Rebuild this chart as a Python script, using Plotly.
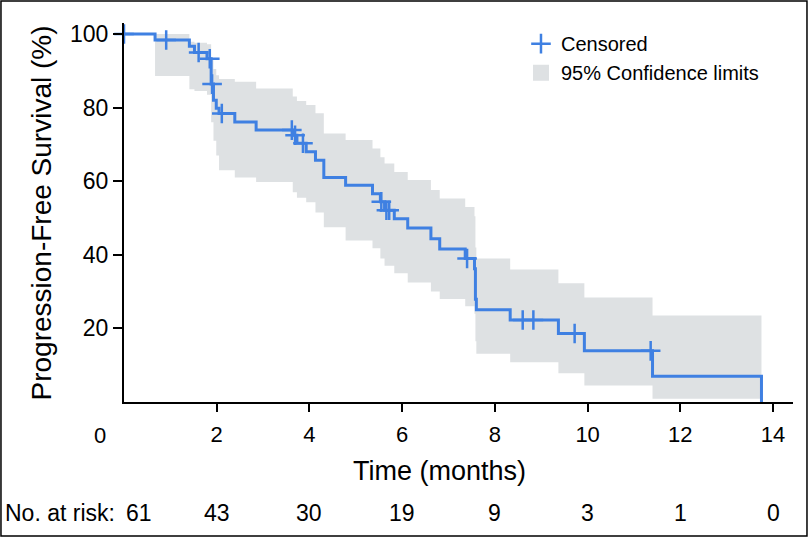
import plotly.graph_objects as go

# ---- data ----
times = [0, 0.67, 1.41, 1.52, 1.79, 1.88, 1.93, 1.99, 2.05, 2.39, 2.85, 3.64, 3.73, 3.93, 4.13, 4.31,
         4.78, 5.36, 5.53, 5.62, 5.83, 6.12, 6.62, 6.81, 7.36, 7.56, 7.58, 7.60, 8.33, 9.37, 9.93,
         11.40, 13.75]
survival = [100, 98.4, 96.7, 95.0, 93.3, 86.4, 82.0, 79.8, 78.4, 76.1, 73.9, 72.5, 70.3, 68.0, 65.7, 61.0,
            58.9, 56.6, 54.4, 52.1, 49.8, 47.3, 44.4, 41.6, 39.0, 36.2, 27.9, 25.1, 22.3, 18.6, 13.9,
            6.97, 0]
ci_upper = [100, 100, 97.9, 97.6, 97.2, 93.0, 90.5, 88.8, 87.8, 87.0, 85.2, 83.0, 81.8, 80.7, 78.5, 73.0,
            71.2, 68.9, 66.5, 64.8, 62.5, 60.3, 57.6, 55.3, 53.0, 50.5, 42.0, 39.0, 36.0, 32.3, 28.4,
            23.5, 23.5]
ci_lower = [100, 88.6, 85.0, 84.5, 83.5, 76.0, 71.0, 67.0, 63.0, 61.0, 59.8, 57.0, 55.5, 54.3, 51.5, 47.5,
            43.9, 41.8, 39.0, 37.0, 35.0, 32.5, 30.0, 28.0, 26.0, 24.0, 16.5, 13.1, 10.8, 7.8, 4.5,
            0.9, 0.9]
censor_t = [0, 0.91, 1.61, 1.85, 1.90, 2.11, 3.62, 3.69, 3.86, 5.55, 5.66, 5.72, 7.40, 8.60, 8.83, 9.72, 11.36]
censor_s = [100, 98.4, 95.0, 93.3, 86.4, 78.4, 73.9, 72.5, 70.3, 54.4, 52.1, 52.1, 39.0, 22.3, 22.3, 18.6, 13.9]

x_ticks = [2, 4, 6, 8, 10, 12, 14]
y_ticks = [20, 40, 60, 80, 100]
risk_times = [0, 2, 4, 6, 8, 10, 12, 14]
at_risk = [61, 43, 30, 19, 9, 3, 1, 0]

BLUE = "#3f80e2"
GREY = "#dee1e3"
SANS = "Liberation Sans, Arial, Helvetica, sans-serif"

fig = go.Figure()

# confidence band
fig.add_trace(go.Scatter(x=times, y=ci_upper, mode="lines", line=dict(width=0, shape="hv"),
                         hoverinfo="skip", showlegend=False))
fig.add_trace(go.Scatter(x=times, y=ci_lower, mode="lines", line=dict(width=0, shape="hv"),
                         fill="tonexty", fillcolor=GREY, hoverinfo="skip", showlegend=False))

# KM curve
fig.add_trace(go.Scatter(x=times, y=survival, mode="lines", line=dict(color=BLUE, width=3, shape="hv"),
                         showlegend=False))

# censored marks
fig.add_trace(go.Scatter(x=censor_t, y=censor_s, mode="markers", name="Censored", cliponaxis=False,
                         marker=dict(symbol="cross-thin", size=14, color=BLUE,
                                     line=dict(width=2.5, color=BLUE)),
                         legendgroup="a"))
# legend entry for the band
fig.add_trace(go.Scatter(x=[None], y=[None], mode="markers", name="95% Confidence limits",
                         marker=dict(symbol="square", size=17, color=GREY),
                         legendgroup="b"))

annotations = [
    dict(text="Time (months)", xref="paper", yref="paper", x=0.4723, y=-0.183, xanchor="center",
         yanchor="middle", showarrow=False, font=dict(family=SANS, size=27, color="black")),
    dict(text="Progression-Free Survival (%)", xref="paper", yref="paper", x=-0.1226, y=0.5,
         xanchor="center", yanchor="middle", textangle=-90, showarrow=False,
         font=dict(family=SANS, size=28, color="black")),
    dict(text="0", xref="paper", yref="paper", x=-0.0359, y=-0.0897, xanchor="center", yanchor="middle",
         showarrow=False, font=dict(family=SANS, size=22, color="black")),
    dict(text="No. at risk:", xref="paper", yref="paper", x=-0.181, y=-0.293, xanchor="left",
         yanchor="middle", showarrow=False, font=dict(family=SANS, size=23, color="black")),
]
for i, (t, n) in enumerate(zip(risk_times, at_risk)):
    annotations.append(dict(text=str(n), xref="x", yref="paper", x=(0.33 if i == 0 else t),
                            y=-0.293, xanchor="center", yanchor="middle", showarrow=False,
                            font=dict(family=SANS, size=23, color="black")))

fig.update_layout(
    width=812, height=539,
    margin=dict(l=124, r=19, t=23, b=137),
    paper_bgcolor="white", plot_bgcolor="white",
    showlegend=True,
    legend=dict(x=0.5934, y=0.997, xanchor="left", yanchor="top", bgcolor="rgba(0,0,0,0)",
                font=dict(family=SANS, size=20, color="black"), tracegroupgap=0),
    xaxis=dict(range=[0, 14.43], showgrid=False, zeroline=False, showline=True, linecolor="black",
               linewidth=2, ticks="outside", ticklen=8, tickwidth=2, tickcolor="black",
               tickvals=x_ticks, ticktext=[str(v) for v in x_ticks], ticklabelstandoff=4,
               tickfont=dict(family=SANS, size=22, color="black")),
    yaxis=dict(range=[0, 103], showgrid=False, zeroline=False, showline=True, linecolor="black",
               linewidth=2, ticks="outside", ticklen=9, tickwidth=2, tickcolor="black",
               tickvals=y_ticks, ticktext=[str(v) for v in y_ticks],
               tickfont=dict(family=SANS, size=23, color="black")),
    annotations=annotations,
    shapes=[dict(type="rect", xref="paper", yref="paper", x0=-0.1839, x1=1.0209, y0=-0.3536, y1=1.058,
                 line=dict(color="black", width=1.5), fillcolor="rgba(0,0,0,0)", layer="above")],
)

fig.write_html("out.html", config={"displayModeBar": False},
               post_script="document.body.style.margin='0px';document.body.style.overflow='hidden';")
